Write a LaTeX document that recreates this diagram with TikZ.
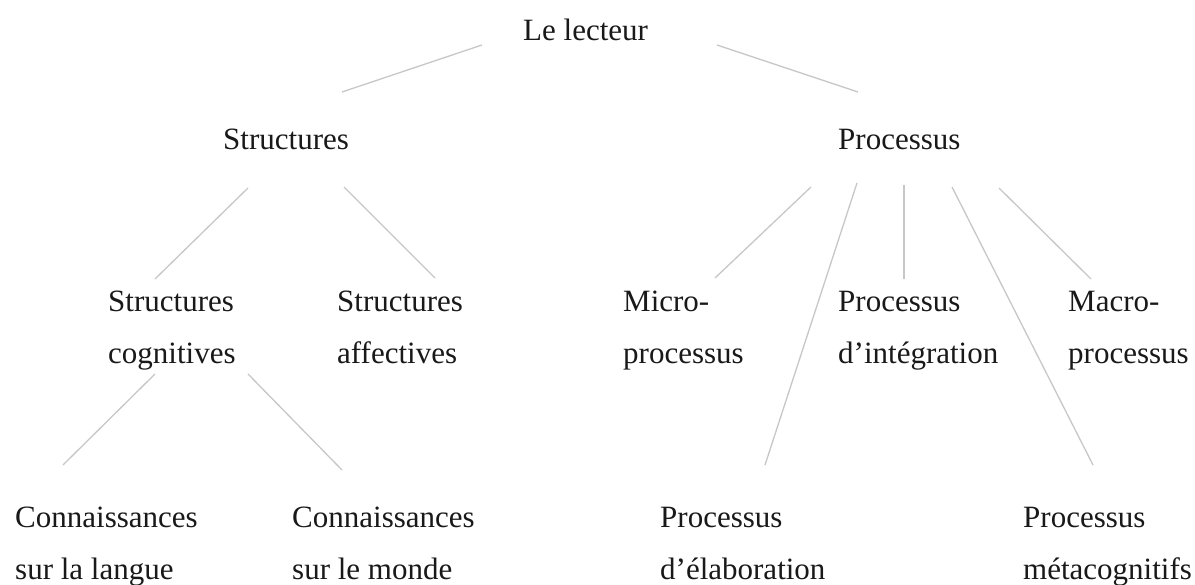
\documentclass[tikz,border=0pt]{standalone}
\usepackage{fontspec}
\setmainfont{Liberation Serif}
\usetikzlibrary{calc}
\newcommand\twolines[2]{\begin{tabular}[t]{@{}l@{}}#1\\#2\end{tabular}}
\begin{document}
\begin{tikzpicture}[x=1pt,y=-1pt,
  lbl/.style={inner sep=0pt,anchor=base west,font=\fontsize{31}{52}\selectfont,text=black!90},
  edge/.style={draw=black!22,line width=1.3pt}]
\useasboundingbox[fill=white] (0,0) rectangle (1195,585);
% nodes
\node[lbl] (lect)   at (523,41)  {Le lecteur};
\node[lbl] (str)    at (223,150) {Structures};
\node[lbl] (proc)   at (838,150) {Processus};
\node[lbl] (scog)   at (108,312) {\twolines{Structures}{cognitives}};
\node[lbl] (saff)   at (337,312) {\twolines{Structures}{affectives}};
\node[lbl] (micro)  at (623,312) {\twolines{Micro-}{processus}};
\node[lbl] (pint)   at (838,312) {\twolines{Processus}{d’intégration}};
\node[lbl] (macro)  at (1068,312) {\twolines{Macro-}{processus}};
\node[lbl] (clang)  at (15,527)  {\twolines{Connaissances}{sur la langue}};
\node[lbl] (cmonde) at (292,527) {\twolines{Connaissances}{sur le monde}};
\node[lbl] (pelab)  at (660,527) {\twolines{Processus}{d’élaboration}};
\node[lbl] (pmeta)  at (1023,527) {\twolines{Processus}{métacognitifs}};
% connectors
\draw[edge] ($(lect.base west)+(-41,4)$) -- ($(str.base west)+(119,-58)$);
\draw[edge] ($(lect.base west)+(194,4)$) -- ($(proc.base west)+(20,-58)$);
\draw[edge] ($(str.base west)+(25,38)$) -- ($(scog.base west)+(47,-33)$);
\draw[edge] ($(str.base west)+(121,37)$) -- ($(saff.base west)+(98,-34)$);
\draw[edge] ($(proc.base west)+(-27,37)$) -- ($(micro.base west)+(92,-34)$);
\draw[edge] ($(proc.base west)+(19,33)$) -- ($(pelab.base west)+(105,-62)$);
\draw[edge] ($(proc.base west)+(66,35)$) -- ($(pint.base west)+(66,-33)$);
\draw[edge] ($(proc.base west)+(114,37)$) -- ($(pmeta.base west)+(70,-62)$);
\draw[edge] ($(proc.base west)+(161,38)$) -- ($(macro.base west)+(23,-33)$);
\draw[edge] ($(scog.base west)+(47,62)$) -- ($(clang.base west)+(48,-62)$);
\draw[edge] ($(scog.base west)+(140,62)$) -- ($(cmonde.base west)+(50,-57)$);
\end{tikzpicture}
\end{document}
